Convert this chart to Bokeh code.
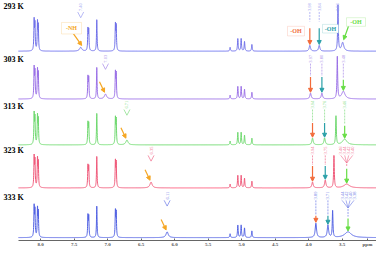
import numpy as np
from bokeh.plotting import figure
from bokeh.models import Range1d, FixedTicker, Label, Arrow, NormalHead, BoxAnnotation, NumeralTickFormatter
from bokeh.core.properties import value
from bokeh.embed import file_html
from bokeh.resources import INLINE

# ---------------- data ----------------
temperatures = ["293 K", "303 K", "313 K", "323 K", "333 K"]
arom_ppm = [8.095, 8.083, 8.045, 8.033, 7.292, 7.280, 7.160, 6.882, 6.870]
arom_h = [31, 27, 29, 25, 22, 21, 33, 27, 25]
ali_ppm = [5.17, 5.055, 5.005, 4.955, 4.845]
ali_h = [4, 13, 13, 10, 7]
nh_ppm = [7.40, 7.03, 6.71, 6.35, 6.11]
nh_h = [4, 5, 5, 6, 6]
oh1_ppm = [3.98, 3.97, 3.94, 3.94, 3.89]
oh1_h = [6, 6, 7, 6, 15]
oh2_ppm = [3.84, 3.80, 3.76, 3.75, 3.71]
oh2_h = [6, 6, 7, 8, 13]
oh3_ppm = [3.49, 3.48, 3.46, 3.43, 3.41]
oh3_h = [9, 8, 6, 4, 6]
ch_ppm = [3.56, 3.57, 3.59, 3.62, 3.64]
ch_h = [48, 44, 30, 34, 28]
fan_offsets = [0.03, 0.01, -0.01, -0.03]
tick_vals = [8.0, 7.5, 7.0, 6.5, 6.0, 5.5, 5.0, 4.5, 4.0, 3.5, 3.12]
tick_text = {3.12: "ppm"}

# ---------------- styles / layout ----------------
spec_colors = ["#6f70e8", "#9a70e6", "#6fd86f", "#ef5a7a", "#5262e2"]
label_colors = ["#9a9cf0", "#a88ae8", "#7fdc7f", "#f06a8a", "#6a78e6"]
c_or, c_te, c_gr, c_nh = "#f26b3a", "#2aa0a8", "#66dd44", "#f5a623"
baseline = [53, 103, 151, 196, 248]
label_top = [1, 55, 103, 151, 198]
temp_y = [6, 62, 111, 157, 206]
SERIF = "Liberation Serif"
serif = value(SERIF)

def X(px):
    # image pixel -> ppm (layout helper for annotations)
    return 8.0 - (px - 40) / 67.0

def PX(ppm):
    return 40 + (8.0 - ppm) * 67.0

p = figure(width=376, height=249, output_backend="svg", toolbar_location=None,
           x_range=Range1d(X(0), X(376)), y_range=Range1d(251, 0),
           min_border=0, min_border_left=0, min_border_right=0, min_border_top=0)
p.grid.visible = False
p.yaxis.visible = False
p.outline_line_color = None
p.background_fill_color = "white"
xa = p.xaxis[0]
xa.ticker = FixedTicker(ticks=tick_vals)
xa.formatter = NumeralTickFormatter(format="0.0")
xa.major_label_overrides = tick_text
xa.bounds = (2.96, 8.33)
xa.major_tick_in = 2
xa.major_tick_out = 0
xa.minor_tick_line_color = None
xa.major_label_standoff = 1
xa.axis_label_standoff = 0
xa.major_label_text_font_size = "5px"
xa.major_label_text_font = SERIF
xa.major_label_text_font_style = "bold"
xa.major_label_text_color = "#555555"
xa.axis_line_color = "#666666"
xa.major_tick_line_color = "#666666"

x = np.linspace(2.96, 8.33, 4000)

def lor(pos, h, w):
    return h * w * w / ((x - pos) ** 2 + w * w)

for i in range(5):
    y = np.zeros_like(x)
    for pp, hh in zip(arom_ppm, arom_h):
        y += lor(pp, hh, 0.005)
    for pp, hh in zip(ali_ppm, ali_h):
        y += lor(pp, hh, 0.006)
    y += lor(nh_ppm[i], nh_h[i], 0.02)
    y += lor(oh1_ppm[i], oh1_h[i], 0.012)
    y += lor(oh2_ppm[i], oh2_h[i], 0.012)
    y += lor(ch_ppm[i], ch_h[i], 0.006)
    y += lor(oh3_ppm[i], oh3_h[i], 0.02 + 0.01 * i)
    p.line(x, baseline[i] - y, line_color=spec_colors[i], line_width=1)
    p.add_layout(Label(x=X(3), y=temp_y[i], text=temperatures[i], text_font=SERIF,
                       text_font_style="bold", text_font_size="8px", text_color="black",
                       text_baseline="middle"))

def vtext(ppm, ytop, txt, color):
    p.text(x=[ppm], y=[ytop + 10], text=[txt], angle=np.pi / 2, text_align="left",
           text_baseline="middle", text_font=serif, text_font_size="4.5px", text_color=color)

def dash(ppm, y0, y1, color):
    p.segment(x0=[ppm], y0=[y0], x1=[ppm], y1=[y1], line_color=color, line_width=0.7, line_dash="2 1")

def arrow(x0, y0, x1, y1, color):
    p.add_layout(Arrow(end=NormalHead(size=4, line_color=color, fill_color=color),
                       x_start=x0, y_start=y0, x_end=x1, y_end=y1,
                       line_color=color, line_width=1.2))

def vee(ppm, ytop, color):
    xc = PX(ppm)
    p.segment(x0=[X(xc - 3), X(xc + 3)], y0=[ytop + 11, ytop + 11], x1=[ppm, ppm],
              y1=[ytop + 17, ytop + 17], line_color=color, line_width=0.7)

for i in range(5):
    lc = label_colors[i]
    b = baseline[i]
    lt = label_top[i]
    vtext(nh_ppm[i], lt, "%.2f" % nh_ppm[i], lc)
    vee(nh_ppm[i], lt, lc)
    for pp in (oh1_ppm[i], oh2_ppm[i]):
        vtext(pp, lt, "%.2f" % pp, lc)
    if i >= 3:
        xc = PX(oh3_ppm[i])
        for k, off in enumerate(fan_offsets):
            xl = X(xc + (k - 1.5) * 4)
            vtext(xl, lt, "%.2f" % (oh3_ppm[i] + off), lc)
            p.segment(x0=[xl], y0=[lt + 11], x1=[oh3_ppm[i]], y1=[lt + 19], line_color=lc, line_width=0.6)
    else:
        v3 = oh3_ppm[i] if i > 0 else ch_ppm[i]
        vtext(v3, lt, "%.2f" % v3, lc)
    if i == 0:
        for pp in (oh1_ppm[i], oh2_ppm[i], ch_ppm[i]):
            dash(pp, lt + 11, 22, lc)
        continue
    for pp, hh, col in ((oh1_ppm[i], oh1_h[i], c_or), (oh2_ppm[i], oh2_h[i], c_te)):
        dash(pp, lt + 11, b - 24, lc)
        arrow(pp, b - 23, pp, b - hh - 1, col)
    ystart = lt + (20 if i >= 3 else 11)
    dash(oh3_ppm[i], ystart, b - 22, lc)
    arrow(oh3_ppm[i], b - 20, oh3_ppm[i], b - oh3_h[i] - 1, c_gr)
    xn = PX(nh_ppm[i])
    arrow(X(xn - 6), b - nh_h[i] - 13, X(xn - 1), b - nh_h[i] - 2, c_nh)

boxes = [(61, 81, 23, 35, "#f7c870", "-NH", c_nh),
         (287, 304, 27, 37, "#f7a690", "-OH", c_or),
         (322, 338, 25, 34, "#7cc6c6", "-OH", c_te),
         (346, 365, 18, 27, "#96e67a", "-OH", c_gr)]
for l, r, t, bt, bc, txt, tc in boxes:
    p.add_layout(BoxAnnotation(left=X(l), right=X(r), top=t, bottom=bt, fill_color="white",
                               fill_alpha=1, line_color=bc, line_width=1, level="overlay"))
    p.add_layout(Label(x=X((l + r) / 2), y=(t + bt) / 2, text=txt, text_font=SERIF,
                       text_font_style="bold", text_font_size="6px", text_color=tc,
                       text_align="center", text_baseline="middle", level="overlay"))
b0 = baseline[0]
arrow(X(73), 35, X(PX(nh_ppm[0]) + 1), b0 - nh_h[0] - 2, c_nh)
arrow(oh1_ppm[0], 29, oh1_ppm[0], b0 - oh1_h[0] - 1, c_or)
arrow(oh2_ppm[0], 29, oh2_ppm[0], b0 - oh2_h[0] - 1, c_te)
arrow(X(348), 27, X(PX(oh3_ppm[0]) + 1), b0 - oh3_h[0] - 3, c_gr)

open("out.html", "w").write(file_html(p, INLINE))
